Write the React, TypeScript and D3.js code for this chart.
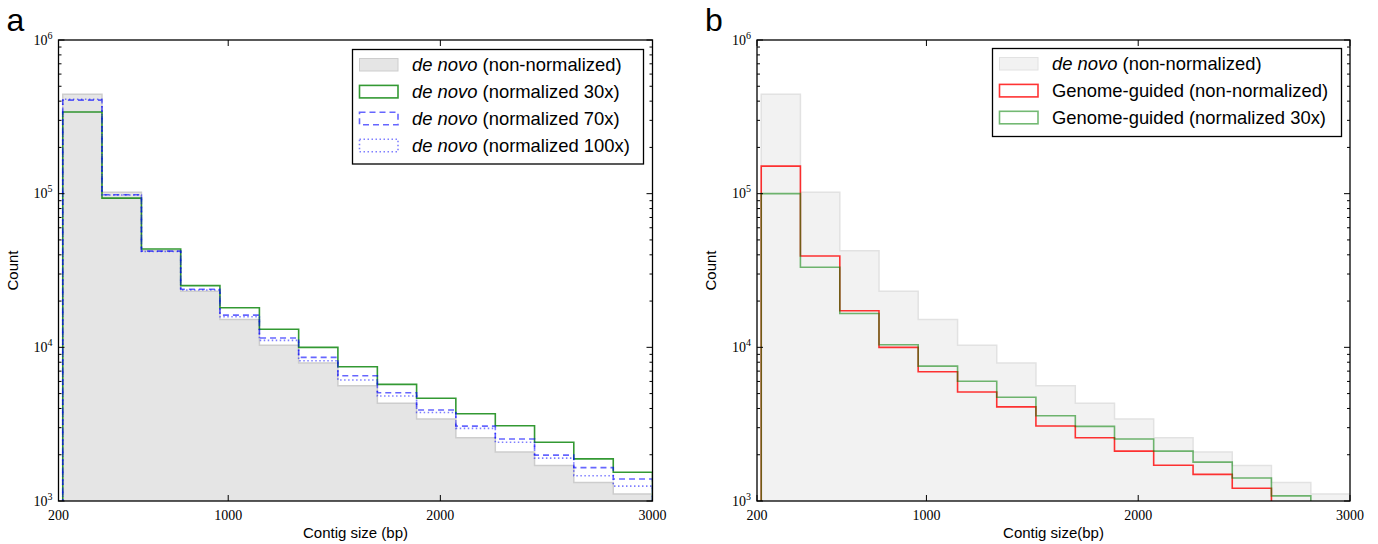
import React from "react";
import * as d3 from "d3";

// histogram bins (bp) shared by every series
const binEdges = [220, 405, 591, 776, 961, 1147, 1332, 1517, 1703, 1888, 2073, 2259, 2444, 2629, 2815, 3000];

// panel a: de novo assemblies
const deNovoRaw = [443000, 102000, 42500, 23200, 15200, 10300, 7900, 5630, 4320, 3420, 2580, 2080, 1700, 1320, 1110];
const deNovo30x = [340000, 93600, 43600, 25200, 18100, 13100, 10000, 7480, 5740, 4660, 3700, 3090, 2410, 1880, 1540];
const deNovo70x = [406000, 98400, 42300, 23900, 16200, 11500, 8600, 6530, 5060, 3910, 3070, 2530, 1990, 1650, 1390];
const deNovo100x = [412000, 98000, 42000, 23600, 15800, 11100, 8170, 6130, 4820, 3770, 2970, 2410, 1900, 1460, 1250];

// panel b: genome-guided assemblies (last bins fall below 10^3)
const guidedRaw = [151000, 39300, 17300, 10000, 6940, 5120, 4100, 3080, 2580, 2110, 1710, 1490, 1210, 900, 700];
const guided30x = [100000, 33200, 16600, 10400, 7550, 6010, 4730, 3590, 3060, 2530, 2110, 1790, 1410, 1080, 800];

const xTicks = [200, 1000, 2000, 3000];
const yDomain = [1e3, 1e6];

const TOP = 40;
const BOTTOM = 501;
const SANS = "'Liberation Sans', Arial, Helvetica, sans-serif";
const SERIF = "'Liberation Serif', 'DejaVu Serif', serif";

type Series = {
  values: number[];
  stroke: string;
  opacity?: number;
  width?: number;
  dash?: string;
  fill?: string;
  label: string;
  italic?: string;
};

const Panel = ({ id, letter, left, right, series, legend, xLabel }) => {
  const x = d3.scaleLinear().domain([200, 3000]).range([left, right]);
  const y = d3.scaleLog().domain(yDomain).range([BOTTOM, TOP]);
  const n = binEdges.length - 1;

  const stepLine = (values: number[]) => {
    const pts: [number, number | null][] = [[binEdges[0], null]];
    values.forEach((v, i) => pts.push([binEdges[i], v]));
    pts.push([binEdges[n], values[n - 1]]);
    pts.push([binEdges[n], null]);
    return d3
      .line<[number, number | null]>()
      .x((d) => x(d[0]))
      .y((d) => (d[1] == null ? BOTTOM + 4 : y(d[1])))
      .curve(d3.curveStepAfter)(pts);
  };

  const stepArea = (values: number[]) => {
    const pts: [number, number][] = values.map((v, i) => [binEdges[i], v]);
    pts.push([binEdges[n], values[n - 1]]);
    return d3
      .area<[number, number]>()
      .x((d) => x(d[0]))
      .y0(BOTTOM)
      .y1((d) => y(d[1]))
      .curve(d3.curveStepAfter)(pts);
  };

  const yTickVals = y.ticks();
  const isMajor = (t: number) => Math.abs(Math.log10(t) - Math.round(Math.log10(t))) < 1e-9;

  return (
    <g>
      <defs>
        <clipPath id={id}>
          <rect x={left} y={TOP} width={right - left} height={BOTTOM - TOP} />
        </clipPath>
      </defs>
      <text x={left - 52} y={31} fontFamily={SANS} fontSize={32}>
        {letter}
      </text>
      <g clipPath={`url(#${id})`}>
        {series.map((s: Series, i: number) =>
          s.fill ? (
            <g key={i}>
              <path d={stepArea(s.values)} fill={s.fill} />
              <path d={stepLine(s.values)} fill="none" stroke={s.stroke} strokeWidth={1.5} />
            </g>
          ) : (
            <path
              key={i}
              d={stepLine(s.values)}
              fill="none"
              stroke={s.stroke}
              strokeOpacity={s.opacity ?? 1}
              strokeWidth={s.width ?? 1.6}
              strokeDasharray={s.dash}
            />
          )
        )}
      </g>

      {/* frame */}
      <rect x={left} y={TOP} width={right - left} height={BOTTOM - TOP} fill="none" stroke="#000" strokeWidth={1.3} />

      {/* y ticks, both sides */}
      {yTickVals.map((t) => {
        const len = isMajor(t) ? 6 : 3;
        return (
          <g key={t} stroke="#000" strokeWidth={1}>
            <line x1={left} x2={left + len} y1={y(t)} y2={y(t)} />
            <line x1={right} x2={right - len} y1={y(t)} y2={y(t)} />
          </g>
        );
      })}
      {yTickVals.filter(isMajor).map((t) => (
        <text key={t} x={left - 6} y={y(t) + 4.5} textAnchor="end" fontFamily={SERIF} fontSize={14}>
          10
          <tspan dy={-6} fontSize={10}>
            {Math.round(Math.log10(t))}
          </tspan>
        </text>
      ))}

      {/* x ticks, top and bottom */}
      {xTicks.map((t) => (
        <g key={t}>
          <line x1={x(t)} x2={x(t)} y1={BOTTOM} y2={BOTTOM - 6} stroke="#000" />
          <line x1={x(t)} x2={x(t)} y1={TOP} y2={TOP + 6} stroke="#000" />
          <text x={x(t)} y={BOTTOM + 19} textAnchor="middle" fontFamily={SERIF} fontSize={14}>
            {t}
          </text>
        </g>
      ))}

      <text
        transform={`translate(${left - 41},${(TOP + BOTTOM) / 2}) rotate(-90)`}
        textAnchor="middle"
        fontFamily={SANS}
        fontSize={15}
      >
        Count
      </text>
      <text x={(left + right) / 2} y={538} textAnchor="middle" fontFamily={SANS} fontSize={15}>
        {xLabel}
      </text>

      {/* legend */}
      <g>
        <rect
          x={legend.x}
          y={legend.y}
          width={legend.w}
          height={legend.h}
          fill="#fff"
          stroke="#000"
          strokeWidth={1.3}
        />
        {series.map((s: Series, i: number) => {
          const cy = legend.y + 15 + i * 26.9;
          return (
            <g key={i}>
              <rect
                x={legend.x + 7}
                y={cy - 6}
                width={38.5}
                height={12.5}
                fill={s.fill ?? "none"}
                stroke={s.stroke}
                strokeOpacity={s.opacity ?? 1}
                strokeWidth={s.fill ? 1 : 1.6}
                strokeDasharray={s.dash}
              />
              <text x={legend.x + 59.5} y={cy + 6.5} fontFamily={SANS} fontSize={18.4}>
                {s.italic ? <tspan fontStyle="italic">{s.italic}</tspan> : null}
                {s.label}
              </text>
            </g>
          );
        })}
      </g>
    </g>
  );
};

const seriesA: Series[] = [
  { values: deNovoRaw, stroke: "#cdcdcd", fill: "#e5e5e5", italic: "de novo", label: " (non-normalized)" },
  { values: deNovo30x, stroke: "#008000", opacity: 0.8, italic: "de novo", label: " (normalized 30x)" },
  { values: deNovo70x, stroke: "#0000ff", opacity: 0.6, dash: "6 4", italic: "de novo", label: " (normalized 70x)" },
  { values: deNovo100x, stroke: "#0000ff", opacity: 0.5, dash: "1.5 2.5", italic: "de novo", label: " (normalized 100x)" },
];

const seriesB: Series[] = [
  { values: deNovoRaw, stroke: "#e2e2e2", fill: "#f2f2f2", italic: "de novo", label: " (non-normalized)" },
  { values: guidedRaw, stroke: "#ff0000", opacity: 0.8, label: "Genome-guided (non-normalized)" },
  { values: guided30x, stroke: "#008000", opacity: 0.55, label: "Genome-guided (normalized 30x)" },
];

export default function App() {
  return (
    <svg width={1378} height={544} style={{ display: "block", position: "absolute", left: 0, top: 0 }}>
      <rect width={1378} height={544} fill="#fff" />
      <Panel
        id="clipA"
        letter="a"
        left={58.5}
        right={652.5}
        series={seriesA}
        legend={{ x: 352.5, y: 49.5, w: 291, h: 114.5 }}
        xLabel="Contig size (bp)"
      />
      <Panel
        id="clipB"
        letter="b"
        left={757}
        right={1350}
        series={seriesB}
        legend={{ x: 992.5, y: 48.5, w: 349, h: 88 }}
        xLabel="Contig size(bp)"
      />
    </svg>
  );
}
